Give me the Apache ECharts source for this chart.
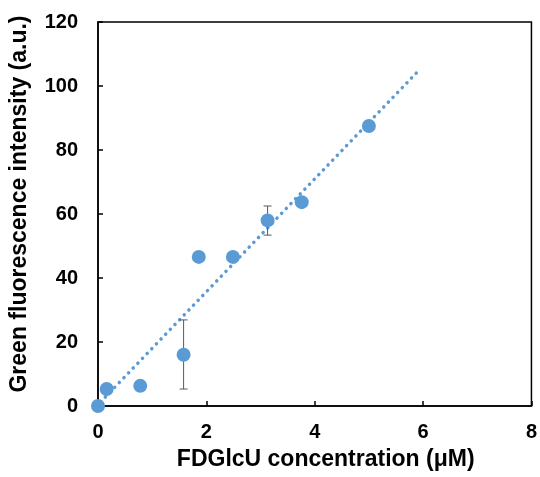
<!DOCTYPE html>
<html><head><meta charset="utf-8">
<script src="https://cdn.jsdelivr.net/npm/echarts@6/dist/echarts.min.js"></script>
<style>html,body{margin:0;padding:0;background:#fff}#c{width:540px;height:477px}</style>
</head><body><div id="c"></div>
<script>
var concX = [0, 0.16, 0.78, 1.58, 1.86, 2.49, 3.13, 3.76, 5.0];
var intensityY = [0, 5.3, 6.3, 16, 46.6, 46.6, 58, 63.7, 87.5];
var errLow = [0, 5.3, 6.3, 5.3, 46.6, 46.6, 53.4, 63.7, 87.5];
var errHigh = [0, 5.3, 6.3, 26.9, 46.6, 46.6, 62.5, 63.7, 87.5];
var trendX = [0.05, 5.9];
var trendY = [1.3, 104.5];
var xTicks = [0, 2, 4, 6, 8];
var yTicks = [0, 20, 40, 60, 80, 100, 120];

var pts = concX.map(function(x, i){ return [x, intensityY[i]]; });
var errs = concX.map(function(x, i){ return [x, errLow[i], errHigh[i]]; }).filter(function(d){ return d[2] - d[1] > 0.5; });
var trend = trendX.map(function(x, i){ return [x, trendY[i]]; });

var font = 'Liberation Sans, Arial, sans-serif';
var chart = echarts.init(document.getElementById('c'), null, {renderer:'canvas'});
chart.setOption({
  animation: false,
  grid: {left: 98, right: 7, top: 22, bottom: 71, show: true, borderColor: '#000', borderWidth: 1.5, backgroundColor: 'transparent'},
  xAxis: {
    type: 'value', min: 0, max: 8, interval: 2,
    name: 'FDGlcU concentration (μM)', nameLocation: 'middle', nameGap: 42,
    nameTextStyle: {fontFamily: font, fontWeight: 'bold', fontSize: 23, color: '#000', padding: [0, 0, 0, 22]},
    axisLine: {show: true, lineStyle: {color: '#000', width: 1.5}},
    axisTick: {show: true, inside: true, length: 5, lineStyle: {color: '#000', width: 1.5}},
    axisLabel: {fontFamily: font, fontWeight: 'bold', fontSize: 20, color: '#000', margin: 16,
      formatter: function(v){ return xTicks.indexOf(v) >= 0 ? String(v) : ''; }},
    splitLine: {show: false}
  },
  yAxis: {
    type: 'value', min: 0, max: 120, interval: 20,
    name: 'Green fluorescence intensity (a.u.)', nameLocation: 'middle', nameGap: 67,
    nameTextStyle: {fontFamily: font, fontWeight: 'bold', fontSize: 23, color: '#000', padding: [0, 0, 0, 20]},
    axisLine: {show: true, lineStyle: {color: '#000', width: 1.5}},
    axisTick: {show: true, inside: true, length: 5, lineStyle: {color: '#000', width: 1.5}},
    axisLabel: {fontFamily: font, fontWeight: 'bold', fontSize: 20, color: '#000', margin: 20,
      formatter: function(v){ return yTicks.indexOf(v) >= 0 ? String(v) : ''; }},
    splitLine: {show: false}
  },
  series: [
    {
      type: 'line', data: trend, symbol: 'none', z: 1,
      lineStyle: {color: '#5B9BD5', width: 3.5, type: [0.1, 6.6], cap: 'round'}
    },
    {
      type: 'custom', data: errs, z: 2,
      renderItem: function(params, api){
        var x = api.value(0);
        var lo = api.coord([x, api.value(1)]);
        var hi = api.coord([x, api.value(2)]);
        var w = 4;
        var st = {stroke: '#595959', lineWidth: 1};
        return {type: 'group', children: [
          {type: 'line', shape: {x1: lo[0], y1: lo[1], x2: hi[0], y2: hi[1]}, style: st},
          {type: 'line', shape: {x1: lo[0]-w, y1: lo[1], x2: lo[0]+w, y2: lo[1]}, style: st},
          {type: 'line', shape: {x1: hi[0]-w, y1: hi[1], x2: hi[0]+w, y2: hi[1]}, style: st}
        ]};
      }
    },
    {
      type: 'scatter', data: pts, symbol: 'circle', symbolSize: 14, z: 3,
      itemStyle: {color: '#5B9BD5', opacity: 1}
    }
  ]
});
</script></body></html>
